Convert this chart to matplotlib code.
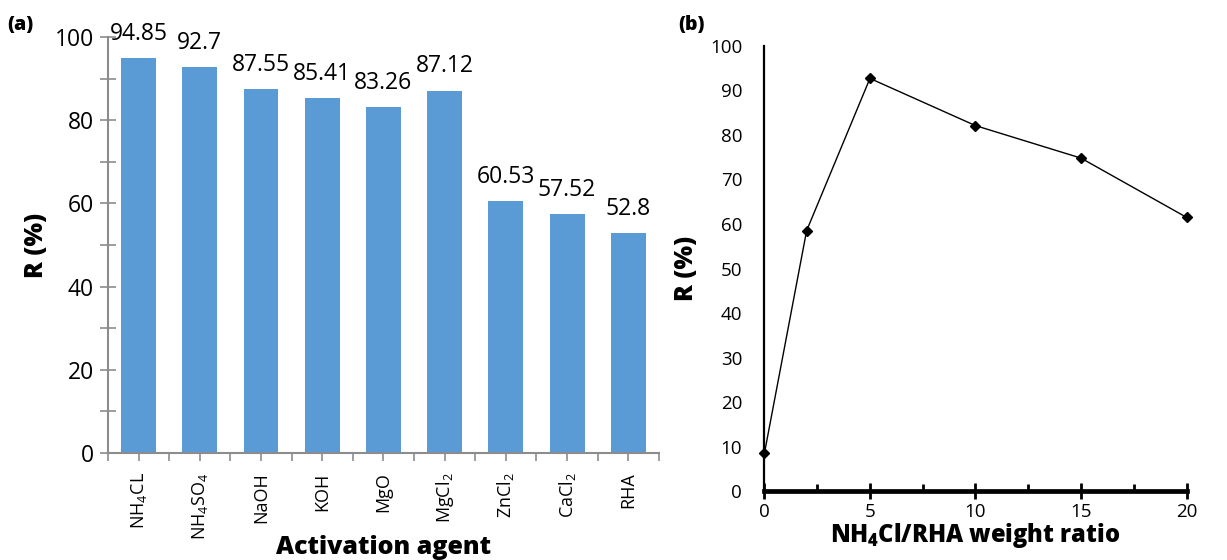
import numpy as np
import matplotlib
matplotlib.use("Agg")
import matplotlib.pyplot as plt
from matplotlib.ticker import MultipleLocator, FixedLocator

plt.rcParams['font.family'] = ['Open Sans', 'DejaVu Sans']
plt.rcParams['mathtext.default'] = 'regular'

# panel (a) data
agents = ['NH$_4$CL', 'NH$_4$SO$_4$', 'NaOH', 'KOH', 'MgO',
          'MgCl$_2$', 'ZnCl$_2$', 'CaCl$_2$', 'RHA']
removal = [94.85, 92.7, 87.55, 85.41, 83.26, 87.12, 60.53, 57.52, 52.8]

# panel (b) data
ratio = [0, 2, 5, 10, 15, 20]
removal_ratio = [8.5, 58.5, 92.7, 82.1, 74.8, 61.5]

fig = plt.figure(figsize=(12.27, 5.6), dpi=100)
grey = '#8c8c8c'
heavy = 'extra bold'

# ---- (a) bar chart
ax1 = fig.add_axes([0.088, 0.191, 0.449, 0.743])
x = np.arange(len(agents))
bars = ax1.bar(x, removal, width=0.57, color='#5b9bd5')
for xi, v in zip(x, removal):
    ax1.annotate(f'{v:g}', (xi, v), xytext=(0, 13), textcoords='offset points',
                 ha='center', va='baseline', fontsize=16.5)
ax1.set_xlim(-0.5, len(agents) - 0.5)
ax1.set_ylim(0, 100)
ax1.set_xticks(x)
ax1.set_xticklabels(agents, rotation=90, fontsize=13)
ax1.xaxis.set_minor_locator(FixedLocator(np.arange(-0.5, len(agents), 1)))
ax1.yaxis.set_major_locator(MultipleLocator(20))
ax1.yaxis.set_minor_locator(MultipleLocator(10))
ax1.tick_params(axis='x', which='both', direction='out', length=6, width=1.2,
                color=grey, pad=8)
ax1.tick_params(axis='y', which='both', direction='inout', length=12, width=1.2,
                color=grey, labelsize=16.5, pad=4)
for s in ['top', 'right']:
    ax1.spines[s].set_visible(False)
for s in ['left', 'bottom']:
    ax1.spines[s].set_color(grey)
    ax1.spines[s].set_linewidth(1.5)
ax1.set_ylabel('R (%)', fontsize=18, fontweight=heavy, labelpad=4)
ax1.set_xlabel('Activation agent', fontsize=18, fontweight=heavy, labelpad=-4)
fig.text(0.006, 0.955, '(a)', fontsize=14, fontweight=heavy, va='center')

# ---- (b) line chart
ax2 = fig.add_axes([0.623, 0.123, 0.344, 0.795])
ax2.plot(ratio, removal_ratio, color='black', lw=1, marker='D', ms=5,
         clip_on=False, zorder=5)
ax2.set_xlim(0, 20)
ax2.set_ylim(0, 100)
ax2.xaxis.set_major_locator(MultipleLocator(5))
ax2.xaxis.set_minor_locator(MultipleLocator(2.5))
ax2.yaxis.set_major_locator(MultipleLocator(10))
ax2.tick_params(axis='x', which='major', direction='inout', length=11, width=2,
                labelsize=13.5, pad=3)
ax2.tick_params(axis='x', which='minor', direction='in', length=5, width=2)
ax2.tick_params(axis='y', which='both', length=0, labelsize=13.5, pad=16)
for s in ['top', 'right']:
    ax2.spines[s].set_visible(False)
ax2.spines['left'].set_linewidth(1.6)
ax2.spines['bottom'].set_linewidth(3.4)
ax2.set_ylabel('R (%)', fontsize=18, fontweight=heavy, labelpad=8)
ax2.set_xlabel('NH$_4$Cl/RHA weight ratio', fontsize=17, fontweight=heavy,
               labelpad=0)
fig.text(0.553, 0.955, '(b)', fontsize=14, fontweight=heavy, va='center')

fig.savefig('out.png', dpi=100)
